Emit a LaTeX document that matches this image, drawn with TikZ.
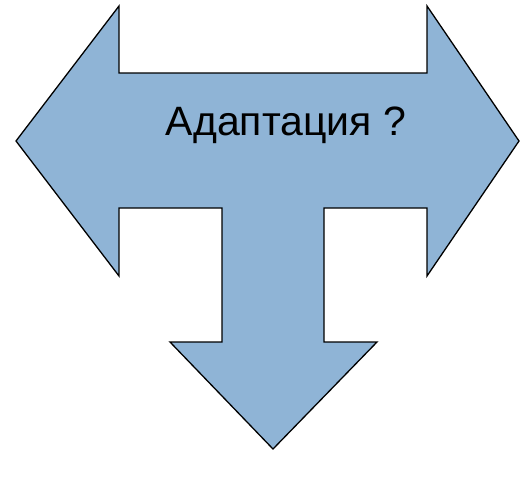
\documentclass[tikz,border=0pt]{standalone}
\usepackage{fontspec}
\setmainfont{Liberation Sans}
\usetikzlibrary{positioning}
\definecolor{flecha}{RGB}{143,180,214}
\tikzset{
  triple/.style={draw=black, fill=flecha, line width=1.3pt, line join=miter},
  rotulo/.style={font=\fontsize{41}{41}\selectfont, anchor=base},
}

\begin{document}
\begin{tikzpicture}[x=1pt,y=-1pt]
          \useasboundingbox (0,0) rectangle (520,479);
          \draw[triple] (16,141) -- (119,6) -- (119,73) -- (427,73) -- (427,6) -- (519,141)
            -- (427,276) -- (427,208) -- (324,208) -- (324,342) -- (377,342) -- (273,449)
            -- (170,342) -- (222,342) -- (222,208) -- (119,208) -- (119,276) -- cycle;
          \node[rotulo] (adapt) at (286,135) {Адаптация ?};
        \end{tikzpicture}
\end{document}
